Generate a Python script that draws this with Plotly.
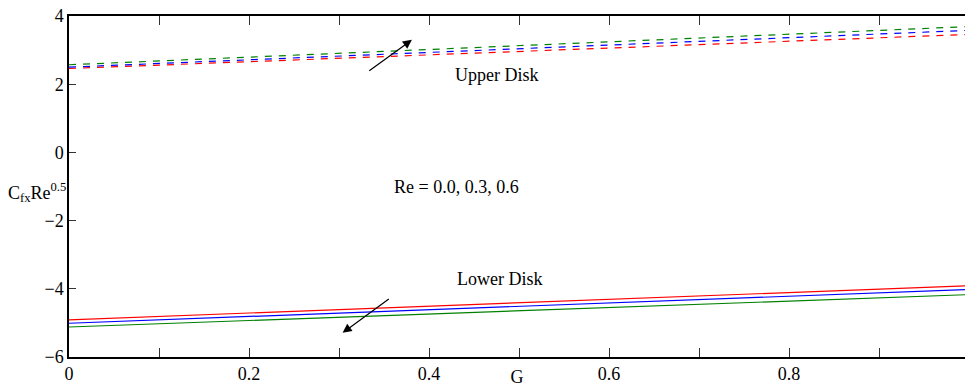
import plotly.graph_objects as go

# Skin friction C_fx Re^0.5 against G for three Reynolds numbers
G = [0.0, 0.25, 0.5, 0.75, 1.0]
re_labels = ["Re = 0.0", "Re = 0.3", "Re = 0.6"]
colors = ["red", "blue", "green"]

upper_disk = {
    "red":   [2.46, 2.71, 2.96, 3.21, 3.46],
    "blue":  [2.50, 2.77, 3.04, 3.31, 3.58],
    "green": [2.57, 2.85, 3.13, 3.41, 3.69],
}
lower_disk = {
    "red":   [-4.91, -4.66, -4.41, -4.16, -3.91],
    "blue":  [-5.01, -4.76, -4.51, -4.27, -4.02],
    "green": [-5.12, -4.88, -4.64, -4.41, -4.17],
}

x_ticks = [0, 0.2, 0.4, 0.6, 0.8]
y_ticks = [-6, -4, -2, 0, 2, 4]

FONT = "Liberation Serif, Times New Roman, serif"

fig = go.Figure()
for c, lab in zip(colors, re_labels):
    fig.add_trace(go.Scatter(x=G, y=upper_disk[c], mode="lines", name=lab + " upper",
                             line=dict(color=c, width=1.2, dash="7px,7px")))
for c, lab in zip(colors, re_labels):
    fig.add_trace(go.Scatter(x=G, y=lower_disk[c], mode="lines", name=lab + " lower",
                             line=dict(color=c, width=1.2)))

# direction arrows for increasing Re
fig.add_annotation(x=0.381, y=3.30, ax=0.332, ay=2.36, xref="x", yref="y",
                   axref="x", ayref="y", showarrow=True, arrowhead=2,
                   arrowsize=1.5, arrowwidth=1.2, arrowcolor="black", text="")
fig.add_annotation(x=0.304, y=-5.29, ax=0.357, ay=-4.27, xref="x", yref="y",
                   axref="x", ayref="y", showarrow=True, arrowhead=2,
                   arrowsize=1.5, arrowwidth=1.2, arrowcolor="black", text="")

fig.add_annotation(x=0.476, y=2.27, text="Upper Disk", showarrow=False,
                   font=dict(family=FONT, size=18, color="black"))
fig.add_annotation(x=0.478, y=-3.71, text="Lower Disk", showarrow=False,
                   font=dict(family=FONT, size=18, color="black"))
fig.add_annotation(x=0.43, y=-1.01, text="Re = 0.0, 0.3, 0.6", showarrow=False,
                   font=dict(family=FONT, size=18, color="black"))

# y-axis title
fig.add_annotation(xref="x domain", yref="y domain", x=-0.07, y=(357 - 192) / 341,
                   xanchor="left", showarrow=False,
                   text="C<sub>fx</sub>Re<sup>0.5</sup>",
                   font=dict(family=FONT, size=18, color="black"))

fig.update_layout(
    width=965, height=387,
    margin=dict(l=69, r=0, t=16, b=30),
    paper_bgcolor="white", plot_bgcolor="white",
    showlegend=False,
    font=dict(family=FONT, size=18, color="black"),
    xaxis=dict(range=[0, 896 / 900], tickvals=x_ticks, ticktext=["0", "0.2", "0.4", "0.6", "0.8"],
               ticks="inside", ticklen=9, tickwidth=1, tickcolor="#333",
               minor=dict(dtick=0.1, tick0=0, ticks="inside", ticklen=9, tickcolor="#333"),
               showline=True, linecolor="black", linewidth=1.5, mirror="ticks",
               showgrid=False, zeroline=False, automargin=False,
               title=dict(text="G", standoff=0, font=dict(size=18))),
    yaxis=dict(range=[-6, 4], tickvals=y_ticks,
               ticks="inside", ticklen=7, tickwidth=1, tickcolor="#333",
               showline=True, linecolor="black", linewidth=1.5,
               showgrid=False, zeroline=False, automargin=False, ticklabelstandoff=0),
)

fig.write_html("out.html")
